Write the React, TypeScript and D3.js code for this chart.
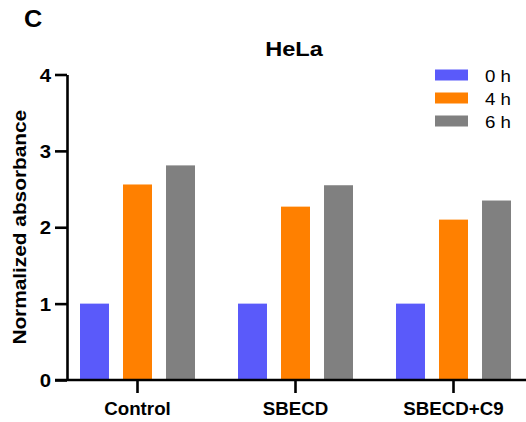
import { useRef, useEffect } from "react";
import * as d3 from "d3";

const categories = ["Control", "SBECD", "SBECD+C9"];
const seriesNames = ["0 h", "4 h", "6 h"];
const values0h = [1.0, 1.0, 1.0];
const values4h = [2.56, 2.27, 2.1];
const values6h = [2.81, 2.55, 2.35];
const yTicks = [0, 1, 2, 3, 4];
const colors = ["#5a5afa", "#ff8000", "#808080"];

export default function App() {
  const svgRef = useRef<SVGSVGElement>(null);

  useEffect(() => {
    const w = 526;
    const h = 422;
    const svg = d3.select(svgRef.current).attr("width", w).attr("height", h);
    svg.selectAll("*").remove();

    const font = "Arial, 'Liberation Sans', sans-serif";
    // glyphs in the figure are wider than Arial, widen along the baseline
    const stretch = "scale(1.1,1)";
    const axisX = 67;

    // scales
    const y = d3.scaleLinear().domain([0, 4]).range([380, 74.5]);
    const x0 = d3.scaleBand().domain(categories).range([58.5, 532.5]);
    const x1 = d3
      .scaleBand()
      .domain(seriesNames)
      .range([0, 115])
      .paddingInner(0.326);
    const groupOffset = (x0.bandwidth() - 115) / 2;

    const series = [values0h, values4h, values6h];
    const rows = categories.flatMap((c, i) =>
      seriesNames.map((s, j) => ({ cat: c, name: s, value: series[j][i], color: colors[j] }))
    );

    // bars
    svg
      .append("g")
      .selectAll("rect")
      .data(rows)
      .join("rect")
      .attr("x", (d) => x0(d.cat)! + groupOffset + x1(d.name)!)
      .attr("y", (d) => y(d.value))
      .attr("width", x1.bandwidth())
      .attr("height", (d) => y(0) - y(d.value))
      .attr("fill", (d) => d.color);

    // y axis
    const yAxis = d3
      .axisLeft(y)
      .tickValues(yTicks)
      .tickFormat(d3.format("d"))
      .tickSize(12)
      .tickSizeOuter(0);
    const gy = svg.append("g").attr("transform", `translate(${axisX},0)`).call(yAxis);
    gy.selectAll("path, line").attr("stroke", "#000").attr("stroke-width", 2.6);
    gy.selectAll("text")
      .attr("font-family", font)
      .attr("font-weight", "bold")
      .attr("font-size", 18.5)
      .attr("fill", "#000")
      .attr("x", null)
      .attr("dy", "0.36em")
      .attr("transform", "translate(-16,0) " + stretch);

    // x axis baseline + ticks
    svg
      .append("line")
      .attr("x1", 55)
      .attr("x2", 526)
      .attr("y1", y(0))
      .attr("y2", y(0))
      .attr("stroke", "#000")
      .attr("stroke-width", 2.6);
    const xAxis = d3.axisBottom(x0).tickSize(13).tickSizeOuter(0);
    const gx = svg.append("g").attr("transform", `translate(0,${y(0)})`).call(xAxis);
    gx.select(".domain").remove();
    gx.selectAll("line").attr("stroke", "#000").attr("stroke-width", 2.6);
    gx.selectAll("text")
      .attr("font-family", font)
      .attr("font-weight", "bold")
      .attr("font-size", 17.5)
      .attr("fill", "#000")
      .attr("y", null)
      .attr("dy", null)
      .attr("transform", "translate(0,34.5) scale(1.07,1)");

    // y label, centred on the axis
    svg
      .append("text")
      .attr("transform", `translate(25.5,${(y(0) + y(4)) / 2}) rotate(-90) scale(1.19,1)`)
      .attr("text-anchor", "middle")
      .attr("font-family", font)
      .attr("font-weight", "bold")
      .attr("font-size", 17.5)
      .text("Normalized absorbance");

    // title and panel letter
    svg
      .append("text")
      .attr("transform", "translate(294,56) scale(1.15,1)")
      .attr("text-anchor", "middle")
      .attr("font-family", font)
      .attr("font-weight", "bold")
      .attr("font-size", 20.5)
      .text("HeLa");
    svg
      .append("text")
      .attr("transform", "translate(24,27) " + stretch)
      .attr("font-family", font)
      .attr("font-weight", "bold")
      .attr("font-size", 23)
      .text("C");

    // legend
    const legend = svg
      .append("g")
      .selectAll("g")
      .data(seriesNames)
      .join("g")
      .attr("transform", (d, i) => `translate(435,${75 + i * 23})`);
    legend
      .append("rect")
      .attr("x", 0)
      .attr("y", -5.5)
      .attr("width", 33)
      .attr("height", 11)
      .attr("fill", (d, i) => colors[i]);
    legend
      .append("text")
      .attr("transform", "translate(50,6.5) " + stretch)
      .attr("font-family", font)
      .attr("font-size", 17)
      .text((d) => d);
  }, []);

  return (
    <div>
      <svg ref={svgRef} style={{ position: "absolute", left: 0, top: 0, background: "#fff" }}></svg>
    </div>
  );
}
